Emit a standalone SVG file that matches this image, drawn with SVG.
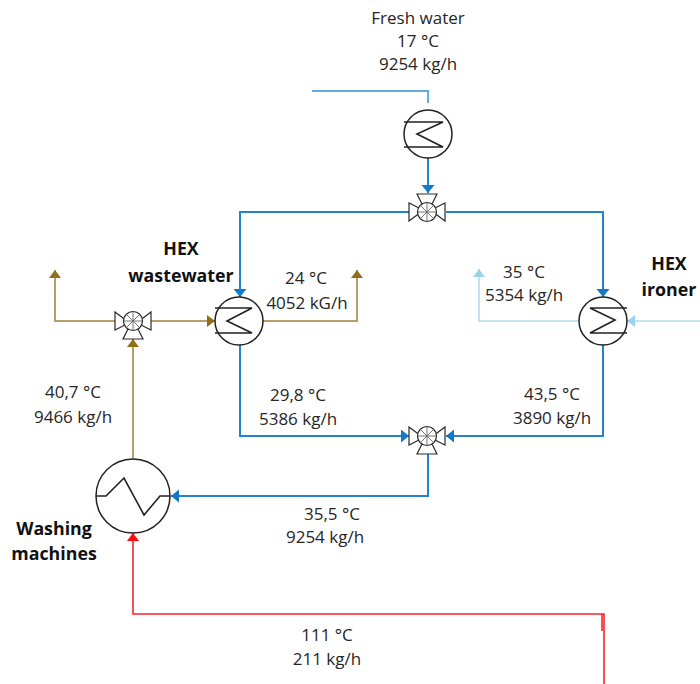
<svg xmlns="http://www.w3.org/2000/svg" width="700" height="684" viewBox="0 0 700 684">
<style>
text{font-family:"Open Sans","Liberation Sans",Arial,sans-serif;font-size:17px;fill:#262626;text-anchor:middle}
.b{font-weight:700;font-size:17.8px;fill:#111}
.c{fill:none;stroke-width:2}
.blue{stroke:#2383d0}.fresh{stroke:#62ace2}.brown{stroke:#b5a06a}.light{stroke:#afdcee;stroke-width:1.6}.red{stroke:#f8242c;stroke-width:1.6}
.sym{fill:#fff;stroke:#222;stroke-width:1.5}
.coil{fill:none;stroke:#222;stroke-width:1.6}
.v{fill:#fff;stroke:#2a2a2a;stroke-width:1.2}
.vl{fill:none;stroke:#666;stroke-width:.9}
</style>
<defs>
<marker id="aBlue" markerUnits="userSpaceOnUse" markerWidth="14" markerHeight="14" refX="8" refY="6.5" orient="auto"><path d="M0 0L8 6.5L0 13Z" fill="#1278c8"/></marker>
<marker id="aBrown" markerUnits="userSpaceOnUse" markerWidth="14" markerHeight="14" refX="8" refY="6" orient="auto"><path d="M0 0L8 6L0 12Z" fill="#8f6f18"/></marker>
<marker id="aLight" markerUnits="userSpaceOnUse" markerWidth="14" markerHeight="14" refX="8" refY="6" orient="auto"><path d="M0 0L8 6L0 12Z" fill="#9ad4ea"/></marker>
<marker id="aRed" markerUnits="userSpaceOnUse" markerWidth="14" markerHeight="14" refX="8" refY="6" orient="auto"><path d="M0 0L8 6L0 12Z" fill="#fb0a12"/></marker>
<g id="valve">
<path class="v" d="M-6 0L-18 -9V9L-6 3Z"/><path class="v" d="M6 0L18 -9V9L6 3Z"/>
<path class="v" d="M-5 8L-10 18H10L5 8Z"/>
<circle class="v" r="9.5"/>
<path class="vl" d="M-9 0H9M0 -9V9M-6.5 -6.5L6.5 6.5M-6.5 6.5L6.5 -6.5"/>
</g>
</defs>
<g id="connectors">
<path class="c fresh" d="M312 91H428V103"/>
<path class="c blue" d="M428 158V193" marker-end="url(#aBlue)"/>
<path class="c blue" d="M410 212H240V297" marker-end="url(#aBlue)"/>
<path class="c blue" d="M446 212H603V297" marker-end="url(#aBlue)"/>
<path class="c blue" d="M240 345V436H409" marker-end="url(#aBlue)"/>
<path class="c blue" d="M603 345V436H446" marker-end="url(#aBlue)"/>
<path class="c blue" d="M428 454V496H171" marker-end="url(#aBlue)"/>
<path class="c brown" d="M115 321H55V270" marker-end="url(#aBrown)"/>
<path class="c brown" d="M151 321H215" marker-end="url(#aBrown)"/>
<path class="c brown" d="M263 321H357V270" marker-end="url(#aBrown)"/>
<path class="c brown" d="M133 459V339" marker-end="url(#aBrown)"/>
<path class="c light" d="M700 321H627" marker-end="url(#aLight)"/>
<path class="c light" d="M579 321H479V269" marker-end="url(#aLight)"/>
<path class="c red" d="M604 684V614H133V533" marker-end="url(#aRed)"/>
<path class="c red" d="M602 614V631"/>
</g>
<g id="hex-fresh"><circle class="sym" cx="428" cy="134" r="24"/><path class="coil" d="M404 122H443L417 134L443 147H404"/></g>
<g id="hex-wastewater"><circle class="sym" cx="239" cy="321" r="24"/><path class="coil" d="M215 308H252L227 321L252 333H215"/></g>
<g id="hex-ironer"><circle class="sym" cx="603" cy="321" r="24"/><path class="coil" d="M627 308H590L615 320L590 333H627"/></g>
<g id="hex-washing"><circle class="sym" cx="133" cy="496" r="37"/><path class="coil" d="M96 496H106L124 478L144 515L160 496H170"/></g>
<g id="valve-top"><use href="#valve" transform="translate(427,212) scale(1,-1)"/></g>
<g id="valve-left"><use href="#valve" transform="translate(133,321)"/></g>
<g id="valve-bottom"><use href="#valve" transform="translate(427,436)"/></g>
<g id="labels">
<text x="418" y="24">Fresh water</text><text x="418" y="47">17 °C</text><text x="418" y="70">9254 kg/h</text>
<text class="b" x="181" y="255">HEX</text><text class="b" x="181" y="282">wastewater</text>
<text x="306" y="284">24 °C</text><text x="307" y="309">4052 kG/h</text>
<text x="524" y="278">35 °C</text><text x="524" y="301">5354 kg/h</text>
<text class="b" x="669" y="270">HEX</text><text class="b" x="669" y="296">ironer</text>
<text x="73" y="398">40,7 °C</text><text x="73" y="423">9466 kg/h</text>
<text x="298" y="401">29,8 °C</text><text x="298" y="425">5386 kg/h</text>
<text x="552" y="400">43,5 °C</text><text x="552" y="424">3890 kg/h</text>
<text class="b" x="54" y="535">Washing</text><text class="b" x="54" y="560">machines</text>
<text x="332" y="520">35,5 °C</text><text x="325" y="543">9254 kg/h</text>
<text x="327" y="641">111 °C</text><text x="327" y="665">211 kg/h</text>
</g>
</svg>
